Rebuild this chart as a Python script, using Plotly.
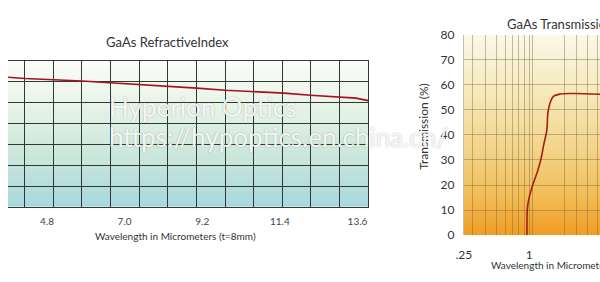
import base64
import plotly.graph_objects as go

# ---------------- data ----------------
# Left chart: GaAs refractive index vs wavelength (µm)
ri_wavelength = [3.70, 4.18, 5.79, 6.60, 7.41, 8.22, 9.04, 9.85, 10.69, 11.52, 12.27, 13.11, 13.56, 13.90]
ri_index = [3.361, 3.358, 3.352, 3.348, 3.343, 3.339, 3.335, 3.330, 3.327, 3.323, 3.318, 3.313, 3.311, 3.305]
ri_tick_vals = [4.8, 7.0, 9.2, 11.4, 13.6]
ri_tick_text = ["4.8", "7.0", "9.2", "11.4", "13.6"]

# Right chart: GaAs transmission (%) vs wavelength (µm, log axis)
tr_wavelength = [0.955, 0.955, 0.96, 1.00, 1.07, 1.19, 1.28, 1.37, 1.45, 1.49, 1.56, 1.68, 1.94, 2.56, 4.5]
tr_percent = [0, 5, 10.2, 15.1, 19.6, 25.3, 30.2, 36.6, 41.5, 49, 52.8, 55.4, 56.3, 56.5, 56.2]
tr_grid_vals = [0.25, 0.3, 0.4, 0.5, 0.6, 0.7, 0.8, 0.9, 1.0, 1.07, 2.12, 2.73, 3.48, 4.3]
tr_grid_text = [".25", "", "", "", "", "", "", "", "1", "", "", "", "", ""]

FONT = "Lato, 'DejaVu Sans', sans-serif"

def grad_svg(stops):
    s = ''.join(f'<stop offset="{o}" stop-color="{c}"/>' for o, c in stops)
    svg = ('<svg xmlns="http://www.w3.org/2000/svg" width="10" height="100" preserveAspectRatio="none">'
           '<defs><linearGradient id="g" x1="0" y1="0" x2="0" y2="1">' + s +
           '</linearGradient></defs><rect width="10" height="100" fill="url(#g)"/></svg>')
    return "data:image/svg+xml;base64," + base64.b64encode(svg.encode()).decode()

left_bg = grad_svg([(0, "#fbfcf8"), (0.3, "#e8f4e8"), (0.6, "#cfe8dc"), (1, "#a7d8de")])
right_bg = grad_svg([(0, "#faf8ea"), (0.3, "#f6e8b8"), (0.55, "#f3d68e"), (0.8, "#f2bd58"), (1, "#f09c22")])

W, H = 600, 282
L_dom = [0, 366 / W]
L_ydom = [(H - 210) / H, (H - 56) / H]
R_dom = [462 / W, 1.0]
R_ydom = [(H - 240) / H, (H - 28) / H]

fig = go.Figure()
fig.add_trace(go.Scatter(x=ri_wavelength, y=ri_index, mode="lines",
                         line=dict(color="#a3121e", width=1.6), xaxis="x", yaxis="y",
                         showlegend=False, hoverinfo="skip"))
fig.add_trace(go.Scatter(x=tr_wavelength, y=tr_percent, mode="lines", line_shape="spline",
                         line=dict(color="#a52010", width=1.6), xaxis="x3", yaxis="y3",
                         showlegend=False, hoverinfo="skip"))

grid_l = "#2e3a33"
grid_r = "rgba(120,100,60,0.42)"

fig.update_layout(
    width=W, height=H, margin=dict(l=0, r=0, t=0, b=0),
    paper_bgcolor="white", plot_bgcolor="rgba(0,0,0,0)",
    font=dict(family=FONT, color="#333"),
    xaxis=dict(domain=L_dom, range=[3.696, 13.93], tickmode="array", tickvals=ri_tick_vals,
               ticktext=ri_tick_text, showgrid=False, zeroline=False, showline=True, mirror=True,
               linecolor=grid_l, linewidth=1, ticks="outside", ticklen=5, tickcolor="rgba(0,0,0,0)",
               tickfont=dict(size=10, color="#444"), anchor="y",
               minor=dict(tickmode="linear", tick0=4.171, dtick=0.8107, showgrid=True,
                          gridcolor=grid_l, gridwidth=1, ticklen=0)),
    yaxis=dict(domain=L_ydom, range=[3.05, 3.40], tickmode="linear", tick0=3.05, dtick=0.05,
               showgrid=True, gridcolor=grid_l, gridwidth=1, showticklabels=False,
               zeroline=False, anchor="x"),
    xaxis3=dict(domain=R_dom, type="log", range=[-0.60206, 0.6525], tickmode="array",
                tickvals=tr_grid_vals, ticktext=tr_grid_text, showgrid=True, gridcolor=grid_r,
                gridwidth=1, zeroline=False, ticks="outside", ticklen=8,
                tickcolor="rgba(0,0,0,0)", tickfont=dict(size=12, color="#333"), anchor="y3"),
    yaxis3=dict(domain=R_ydom, range=[0, 80], tickmode="linear", tick0=0, dtick=10,
                showgrid=True, gridcolor=grid_r, gridwidth=1, zeroline=False, showline=True,
                linecolor=grid_r, ticks="outside", ticklen=6,
                tickcolor="rgba(0,0,0,0)", tickfont=dict(size=12, color="#333"), anchor="x3"),
    images=[
        dict(source=left_bg, xref="paper", yref="paper", x=L_dom[0], y=L_ydom[1],
             sizex=L_dom[1] - L_dom[0], sizey=L_ydom[1] - L_ydom[0], sizing="stretch",
             xanchor="left", yanchor="top", layer="below"),
        dict(source=right_bg, xref="paper", yref="paper", x=R_dom[0], y=R_ydom[1],
             sizex=R_dom[1] - R_dom[0], sizey=R_ydom[1] - R_ydom[0], sizing="stretch",
             xanchor="left", yanchor="top", layer="below"),
    ],
)

def ann(text, x, y, size, xanchor="center", angle=0, color="#333", **kw):
    fig.add_annotation(text=text, x=x / W, y=(H - y) / H, xref="paper", yref="paper",
                       showarrow=False, xanchor=xanchor, yanchor="middle", textangle=angle,
                       font=dict(size=size, color=color, family=FONT, **kw))

ann("GaAs RefractiveIndex", 162, 36, 13)
ann("Wavelength in Micrometers (t=8mm)", 170, 241, 10)
ann("GaAs Transmission", 504, 17, 13, xanchor="left")
ann("Wavelength in Micrometers (t=8mm)", 487, 271, 10, xanchor="left")
ann("Transmission (%)", 421, 125, 12, angle=-90)

# watermark
wm_shadow = "0px 0px 1.5px rgba(90,90,90,0.55)"
ann("Hyperion Optics", 100, 105, 26, xanchor="left", color="rgba(255,255,255,0.9)", shadow=wm_shadow)
ann("https://hypoptics.en.china.cn/", 100, 136, 26, xanchor="left", color="rgba(255,255,255,0.9)", shadow=wm_shadow)

fig.write_html("out.html")
